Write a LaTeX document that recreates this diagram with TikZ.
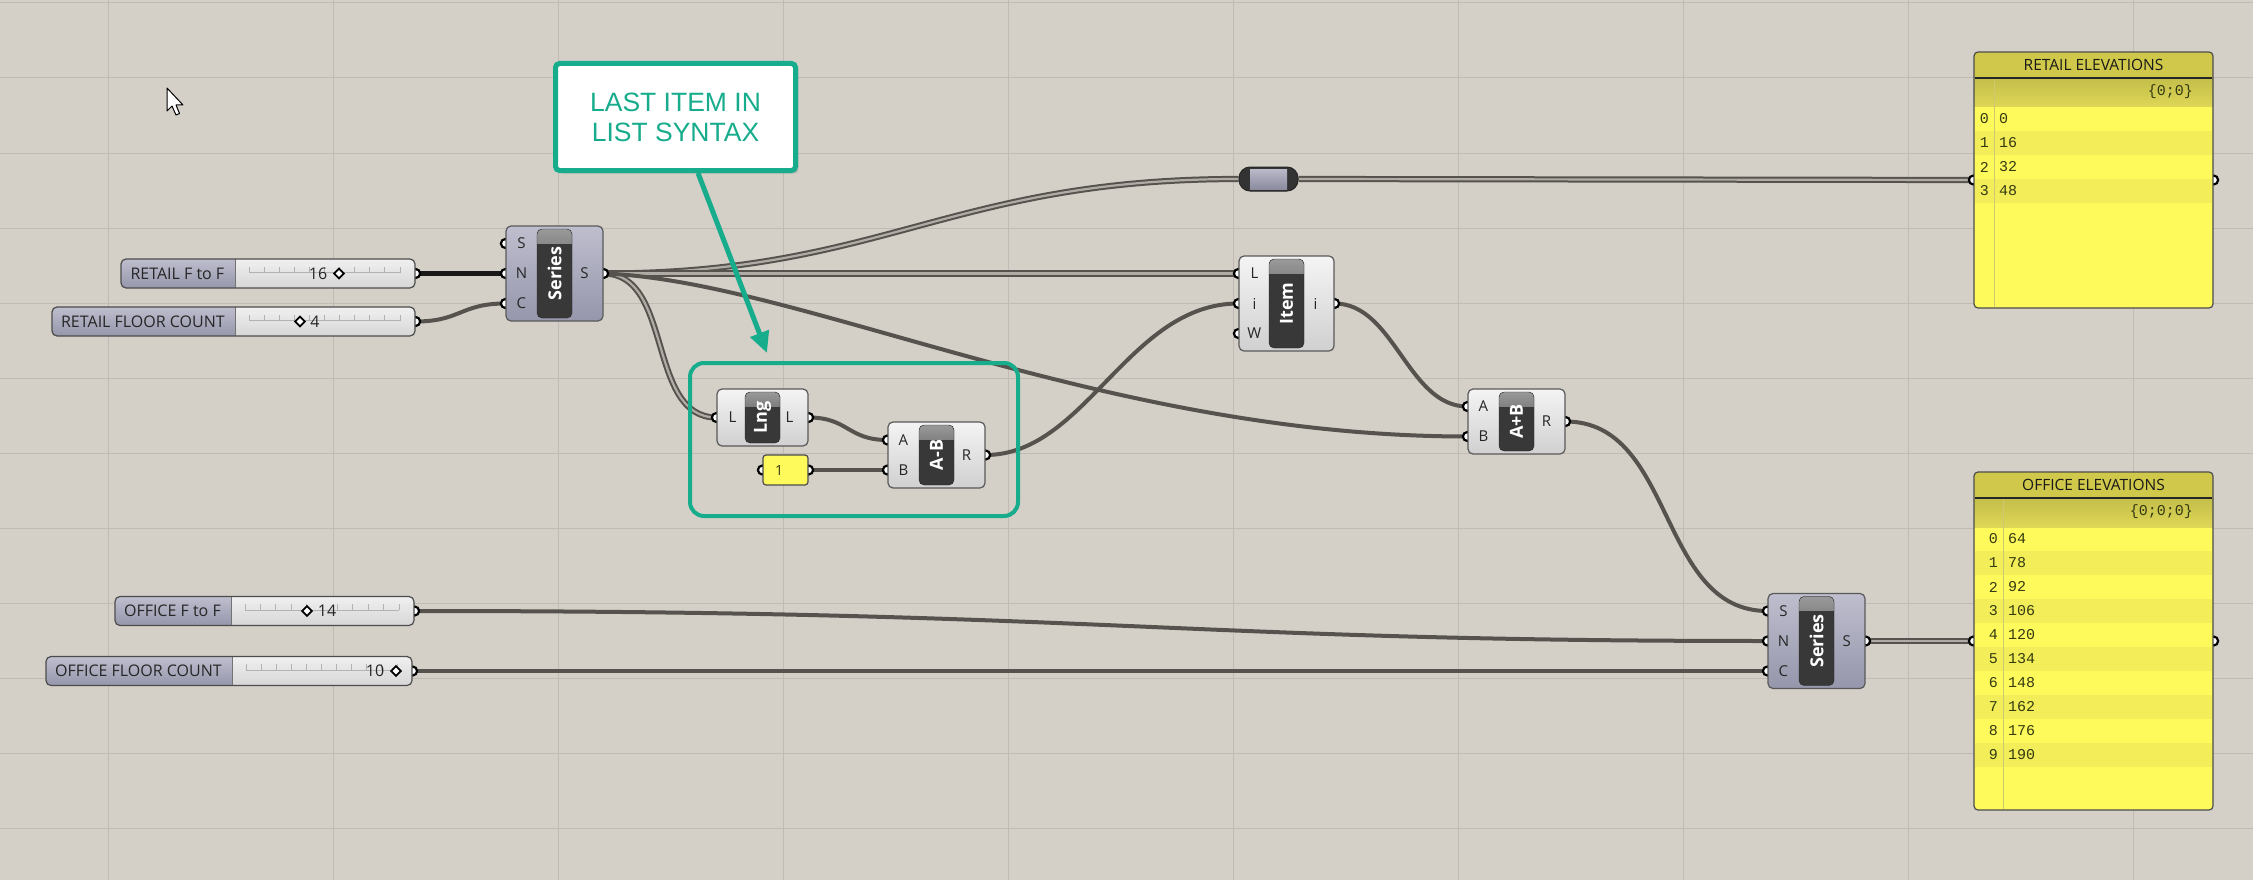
\documentclass[tikz,border=0pt]{standalone}
\usepackage{fontspec}
\setmainfont{Open Sans}
\setmonofont{Liberation Mono}
\newfontfamily\notefont{Liberation Sans}
\usetikzlibrary{arrows.meta,shadows}
\definecolor{canvas}{RGB}{212,208,200}
\definecolor{gridcol}{RGB}{192,188,181}
\definecolor{wirecol}{RGB}{86,83,78}
\definecolor{wirein}{RGB}{176,172,165}
\definecolor{bodytop}{RGB}{244,244,244}
\definecolor{bodybot}{RGB}{208,208,208}
\definecolor{slidetop}{RGB}{240,240,240}
\definecolor{slidebot}{RGB}{214,214,214}
\definecolor{lavtop}{RGB}{190,190,206}
\definecolor{lavbot}{RGB}{150,150,172}
\definecolor{corecol}{RGB}{56,56,56}
\definecolor{paneltitle}{RGB}{207,200,74}
\definecolor{panelsub}{RGB}{222,215,86}
\definecolor{panelbody}{RGB}{255,250,92}
\definecolor{panelstripe}{RGB}{242,237,88}
\definecolor{panelrule}{RGB}{206,200,110}
\definecolor{paneltext}{RGB}{52,58,18}
\definecolor{notegreen}{RGB}{22,172,140}
\pgfdeclarelayer{grid}
\pgfdeclarelayer{wires}
\pgfdeclarelayer{ports}
\pgfsetlayers{grid,wires,ports,main}

\begin{document}
\begin{tikzpicture}[x=1pt, y=-1pt]
\tikzset{gridline/.style = {draw=gridcol, line width=1pt}}
\tikzset{comp/.style = {draw=black!65, line width=1.2pt, rounded corners=5pt, top color=bodytop, bottom color=bodybot, inner sep=0pt}}
\tikzset{lav/.style = {comp, top color=lavtop, bottom color=lavbot}}
\tikzset{core/.style = {draw=black!85, fill=corecol, rounded corners=5pt, minimum width=35pt, inner sep=0pt,
    path picture={\shade[sharp corners, top color=black!40, bottom color=corecol] (path picture bounding box.north west) rectangle ([yshift=-14pt]path picture bounding box.north east);}}}
\tikzset{corelab/.style = {text=white, font=\bfseries\fontsize{18}{18}\selectfont, rotate=90, inner sep=0pt}}
\tikzset{plab/.style = {font=\fontsize{15}{15}\selectfont, text=black!85, inner sep=0pt}}
\tikzset{port/.style = {circle, draw=black, line width=2.2pt, fill=white, minimum size=9pt, inner sep=0pt}}
\tikzset{slider/.style = {draw=black!70, line width=1.2pt, rounded corners=5pt, top color=slidetop, bottom color=slidebot, minimum height=29pt, inner sep=0pt,
    path picture={\shade[sharp corners, top color=lavtop, bottom color=lavbot] (path picture bounding box.north west) rectangle ([xshift=#1]path picture bounding box.south west);
      \draw[black!55, line width=1pt] ([xshift=#1]path picture bounding box.north west) -- ([xshift=#1]path picture bounding box.south west);}}}
\tikzset{slab/.style = {font=\fontsize{16}{16}\selectfont, text=black!85, inner sep=0pt}}
\tikzset{sval/.style = {font=\fontsize{16}{16}\selectfont, text=black!85, inner sep=0pt}}
\tikzset{knob/.style = {draw=black, fill=white, line width=1.8pt, rotate=45, minimum size=7pt, inner sep=0pt}}
\tikzset{track/.style = {draw=black!30, line width=0.9pt}}
\tikzset{wire/.style = {draw=wirecol, line width=4pt}}
\tikzset{dwire/.style = {draw=wirecol, line width=2pt, double=wirein, double distance=2.2pt}}
\tikzset{relay/.style = {draw=black!85, line width=1pt, fill=black!80, rounded corners=11pt, minimum width=59pt, minimum height=24pt, inner sep=0pt,
    path picture={\shade[sharp corners, top color=lavtop, bottom color=lavbot!90!black] ([xshift=11pt,yshift=-2pt]path picture bounding box.north west) rectangle ([xshift=-11pt,yshift=2pt]path picture bounding box.south east);}}}
\tikzset{yel/.style = {draw=black!70, line width=1.2pt, fill=panelbody, rounded corners=3pt, minimum width=45pt, minimum height=30pt, inner sep=0pt}}
\tikzset{panel/.style = {draw=black!70, line width=1.2pt, fill=panelbody, rounded corners=4pt, minimum width=239pt, inner sep=0pt,
    path picture={\fill[sharp corners, paneltitle] (path picture bounding box.north west) rectangle ([yshift=-26pt]path picture bounding box.north east);
      \shade[sharp corners, top color=panelsub!88!black, bottom color=panelsub] ([yshift=-26pt]path picture bounding box.north west) rectangle ([yshift=-55pt]path picture bounding box.north east);}}}
\tikzset{ptitle/.style = {font=\fontsize{15.5}{15.5}\selectfont, text=black!90, inner sep=0pt}}
\tikzset{pcell/.style = {font=\ttfamily\fontsize{15}{15}\selectfont, text=paneltext, inner sep=0pt}}
\tikzset{prule/.style = {draw=panelrule, line width=1pt}}
\tikzset{stripe/.style = {fill=panelstripe}}
\tikzset{callout/.style = {draw=notegreen, line width=5pt, fill=white, rounded corners=4pt, minimum width=240pt, minimum height=107pt,
    align=center, text=notegreen, font=\notefont\fontsize{26.5}{30}\selectfont, drop shadow={opacity=0.3, shadow xshift=3pt, shadow yshift=-3pt}}}
\tikzset{group/.style = {draw=notegreen, line width=4pt, rounded corners=14pt, minimum width=328pt, minimum height=153pt}}
\tikzset{pointer/.style = {draw=notegreen, line width=5pt, -{Triangle[length=21pt, width=19pt]}}}
\useasboundingbox (0,0) rectangle (2253,880);

% canvas and grid
\begin{pgfonlayer}{grid}
\fill[canvas] (0,0) rectangle (2253,880);
\foreach \gx in {108,333,...,2133} \draw[gridline] (\gx,0) -- (\gx,880);
\foreach \gy in {3,78,...,828} \draw[gridline] (0,\gy) -- (2253,\gy);
\end{pgfonlayer}

% number sliders
\node[slider=114pt, minimum width=294pt] (sl1) at (268,273.5) {};
\node[slider=183pt, minimum width=363pt] (sl2) at (233.5,321.5) {};
\node[slider=116pt, minimum width=299pt] (sl3) at (264.5,611) {};
\node[slider=186pt, minimum width=366pt] (sl4) at (229,671) {};
\node[slab] at ([xshift=57pt]sl1.west) {RETAIL F to F};
\node[slab] at ([xshift=91.5pt]sl2.west) {RETAIL FLOOR COUNT};
\node[slab] at ([xshift=58pt]sl3.west) {OFFICE F to F};
\node[slab] at ([xshift=93pt]sl4.west) {OFFICE FLOOR COUNT};
\foreach \a/\b/\y in {249/400/272.5, 249/400/320.5, 245/399/610, 246/397/670} {
  \draw[track] (\a,\y) -- (\b,\y);
  \foreach \k in {0,...,10} \draw[track] ({\a+(\b-\a)*\k/10},\y) -- ++(0,-6);
}
\node[sval] (v1) at (318,273.5) {16};
\node[knob] (k1) at (339,273.5) {};
\node[knob] (k2) at (300,321.5) {};
\node[sval] (v2) at (315,321.5) {4};
\node[knob] (k3) at (307,611) {};
\node[sval] (v3) at (327,611) {14};
\node[sval] (v4) at (375,671) {10};
\node[knob] (k4) at (396,671) {};

% components
\node[lav, minimum width=97pt, minimum height=95pt] (ser1) at (554.5,273.5) {};
\node[comp, minimum width=91pt, minimum height=57pt] (lng) at (762.5,417.5) {};
\node[comp, minimum width=97pt, minimum height=66pt] (sub) at (936.5,455) {};
\node[comp, minimum width=95pt, minimum height=95pt] (item) at (1286.5,303.5) {};
\node[comp, minimum width=97pt, minimum height=65pt] (add) at (1516.5,421.5) {};
\node[lav, minimum width=97pt, minimum height=95pt] (ser2) at (1816.5,641) {};
\foreach \c/\h/\t in {ser1/89/Series, lng/51/Lng, sub/60/A-B, item/89/Item, add/59/A+B, ser2/89/Series}
  \node[core, minimum height=\h pt] (\c-core) at (\c) {} node[corelab] at (\c) {\t};
\foreach \c/\l/\dy in {ser1/S/30, ser1/N/0, ser1/C/-30, lng/L/0, sub/A/15, sub/B/-15, item/L/30, item/i/0, item/W/-30, add/A/15, add/B/-15, ser2/S/30, ser2/N/0, ser2/C/-30}
  \node[plab] at ([xshift=16pt,yshift=\dy pt]\c.west) {\l};
\foreach \c/\l in {ser1/S, lng/L, sub/R, item/i, add/R, ser2/S}
  \node[plab] at ([xshift=-19pt]\c.east) {\l};

% relay and the number panel
\node[relay] (rel) at (1268.5,179) {};
\node[yel] (one) at (785.5,470) {};
\node[font=\fontsize{14}{14}\selectfont, text=paneltext, inner sep=0pt] at (779,470) {1};

% output panels
\node[panel, minimum height=256pt] (retail) at (2093.5,180) {};
\foreach \r in {1,3} \fill[stripe] (1975,107+24*\r) rectangle (2212,131+24*\r);
\draw[prule] (1994,79) -- (1994,307);
\draw[black!85, line width=1.5pt] (1975,78) -- (2212,78);
\node[ptitle] at (2093.5,65) {RETAIL ELEVATIONS};
\node[pcell, anchor=east] at (2193,92) {\{0;0\}};
\foreach \v [count=\i from 0] in {0,16,32,48} {
  \node[pcell, anchor=east] at (1989,119+24*\i) {\i};
  \node[pcell, anchor=west] at (1999,119+24*\i) {\v};
}
\node[panel, minimum height=338pt] (office) at (2093.5,641) {};
\foreach \r in {1,3,...,9} \fill[stripe] (1975,527+24*\r) rectangle (2212,551+24*\r);
\draw[prule] (2003,499) -- (2003,809);
\draw[black!85, line width=1.5pt] (1975,498) -- (2212,498);
\node[ptitle] at (2093.5,485) {OFFICE ELEVATIONS};
\node[pcell, anchor=east] at (2193,512) {\{0;0;0\}};
\foreach \v [count=\i from 0] in {64,78,...,190} {
  \node[pcell, anchor=east] at (1998,539+24*\i) {\i};
  \node[pcell, anchor=west] at (2008,539+24*\i) {\v};
}

% ports
\begin{pgfonlayer}{ports}
\foreach \c/\l/\dy in {ser1/S/30, ser1/N/0, ser1/C/-30, lng/L/0, sub/A/15, sub/B/-15, item/L/30, item/i/0, item/W/-30, add/A/15, add/B/-15, ser2/S/30, ser2/N/0, ser2/C/-30}
  \node[port] (\c\l) at ([yshift=\dy pt]\c.west) {};
\foreach \c in {sl1,sl2,sl3,sl4,ser1,lng,sub,item,add,ser2,one,retail,office}
  \node[port] (\c-o) at (\c.east) {};
\node[port] (onei) at (one.west) {};
\node[port] (reti) at (retail.west) {};
\node[port] (offi) at (office.west) {};
\end{pgfonlayer}

% wires
\begin{pgfonlayer}{wires}
\draw[wire, draw=black!90, line width=4.5pt] (sl1-o.center) -- (ser1N.center);
\draw[wire] (sl2-o.center) .. controls +(45,0) and +(-45,0) .. (ser1C.center);
\draw[dwire] (ser1-o.center) .. controls +(280,0) and +(-290,0) .. (rel.west);
\draw[dwire] (ser1-o.center) -- (itemL.center);
\draw[dwire] (ser1-o.center) .. controls +(70,0) and +(-70,0) .. (lngL.center);
\draw[wire] (ser1-o.center) .. controls +(196,7) and +(-365,0) .. (addB.center);
\draw[wire] (lng-o.center) .. controls +(40,0) and +(-40,0) .. (subA.center);
\draw[wire] (one-o.center) -- (subB.center);
\draw[wire] (sub-o.center) .. controls +(100,0) and +(-110,0) .. (itemi.center);
\draw[wire] (item-o.center) .. controls +(60,0) and +(-60,0) .. (addA.center);
\draw[wire] (add-o.center) .. controls +(110,0) and +(-110,0) .. (ser2S.center);
\draw[wire] (sl3-o.center) .. controls +(700,0) and +(-600,0) .. (ser2N.center);
\draw[wire] (sl4-o.center) -- (ser2C.center);
\draw[dwire] (ser2-o.center) -- (offi.center);
\draw[dwire] (rel.east) -- (reti.center);
\end{pgfonlayer}

% mouse pointer
\draw[fill=white, line width=1pt, line join=round] (167,88) -- (167,111) -- (172,106) -- (176,115) -- (179.5,113.5) -- (176,105) -- (183,105) -- cycle;

% group and note
\node[group] (grp) at (854,439.5) {};
\node[callout] (note) at (675.5,117) {LAST ITEM IN\\LIST SYNTAX};
\coordinate (tip) at (767,353);
\draw[pointer] ([xshift=22.5pt]note.south) -- (tip);
\end{tikzpicture}
\end{document}
